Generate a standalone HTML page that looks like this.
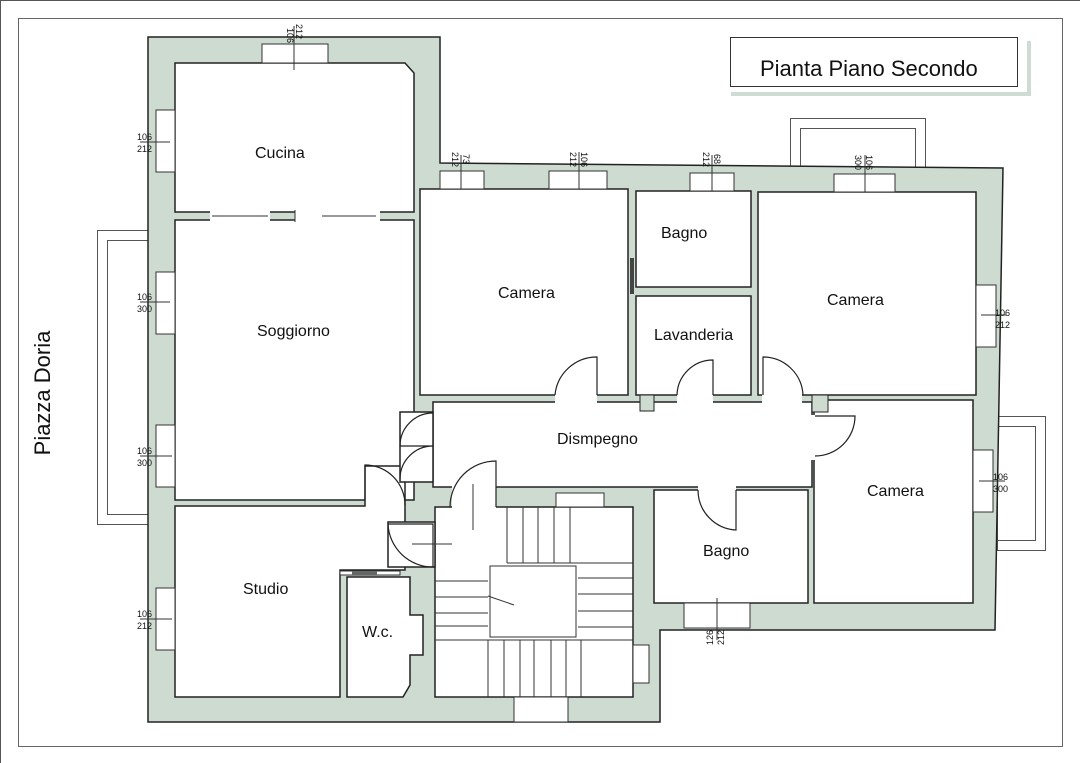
<!DOCTYPE html>
<html><head><meta charset="utf-8"><style>
html,body{margin:0;padding:0;background:#fff;width:1080px;height:763px;overflow:hidden}
svg{display:block;overflow:hidden}
text{font-family:"Liberation Sans",sans-serif;fill:#111}
.r{fill:#fff;stroke:#222;stroke-width:1.5}
.w{fill:#fff;stroke:#333;stroke-width:1}
.l{stroke:#333;stroke-width:1;fill:none}
.d{fill:none;stroke:#222;stroke-width:1.2}
.s{font-size:9px}
</style></head><body>
<svg width="1080" height="763" viewBox="0 0 1080 763">
<line x1="0" y1="0.5" x2="1080" y2="0.5" stroke="#555"/>
<line x1="0.5" y1="0" x2="0.5" y2="763" stroke="#555"/>
<rect x="18.5" y="18.5" width="1044" height="728" fill="none" stroke="#666"/>
<!-- title -->
<rect x="731" y="92" width="300" height="4" fill="#cfdcd3"/>
<rect x="1027" y="41" width="4" height="55" fill="#cfdcd3"/>
<rect x="730.5" y="37.5" width="287" height="49" fill="#fff" stroke="#333"/>
<text x="760" y="76" font-size="22">Pianta Piano Secondo</text>
<text transform="translate(50,393) rotate(-90)" font-size="22" text-anchor="middle">Piazza Doria</text>
<!-- balconies -->
<rect x="97.5" y="230.5" width="51" height="294" fill="none" stroke="#555"/>
<rect x="107.5" y="240.5" width="41" height="274" fill="none" stroke="#555"/>
<rect x="790.5" y="118.5" width="135" height="50" fill="none" stroke="#555"/>
<rect x="800.5" y="128.5" width="115" height="40" fill="none" stroke="#555"/>
<rect x="997.5" y="416.5" width="48" height="134" fill="none" stroke="#555"/>
<rect x="997.5" y="426.5" width="38" height="114" fill="none" stroke="#555"/>
<!-- building -->
<polygon points="148,37 440,37 440,163 1003,168 995,630 660,630 660,722 148,722" fill="#cddbd1" stroke="#222" stroke-width="1.5"/>
<!-- rooms -->
<polygon class="r" points="175,63 405,63 414,73 414,212 175,212"/>
<rect class="r" x="175" y="220" width="239" height="280"/>
<polygon class="r" points="175,506 365,506 365,466 405,466 405,570 340,570 340,697 175,697"/>
<polygon class="r" points="347,577 410,577 410,615 423,615 423,655 410,655 410,685 403,697 347,697"/>
<rect class="r" x="420" y="189" width="208" height="206"/>
<rect class="r" x="636" y="191" width="115" height="96"/>
<rect class="r" x="636" y="296" width="115" height="99"/>
<rect class="r" x="758" y="192" width="218" height="203"/>
<polygon class="r" points="433,402 812,402 812,487 433,487"/>
<rect class="r" x="400" y="412" width="33" height="70"/>
<rect class="r" x="814" y="400" width="159" height="203"/>
<rect class="r" x="654" y="490" width="154" height="113"/>
<rect class="r" x="435" y="507" width="198" height="190"/>
<rect class="r" x="388" y="522" width="47" height="45" stroke="none"/>
<!-- wall chunks -->
<rect x="640" y="395" width="14" height="16" fill="#cddbd1" stroke="#222"/>
<rect x="812" y="395" width="16" height="17" fill="#cddbd1" stroke="#222"/>
<!-- door openings white -->
<rect x="555" y="392" width="42" height="12" fill="#fff"/>
<rect x="677" y="392" width="36" height="12" fill="#fff"/>
<rect x="762" y="392" width="40" height="12" fill="#fff"/>
<rect x="698" y="484" width="38" height="9" fill="#fff"/>
<rect x="452" y="484" width="44" height="26" fill="#fff"/>
<rect x="808" y="415" width="10" height="45" fill="#fff"/>
<rect x="295" y="209" width="30" height="14" fill="#fff"/>
<rect x="210" y="209" width="60" height="14" fill="#fff"/>
<rect x="320" y="209" width="60" height="14" fill="#fff"/>
<line class="l" x1="212" y1="216" x2="268" y2="216"/><line class="l" x1="322" y1="216" x2="376" y2="216"/>
<line class="l" x1="295" y1="210" x2="295" y2="222"/>
<!-- doors arcs -->
<path class="d" d="M597,395 L597,357 A42,42 0 0 0 555,395"/>
<path class="d" d="M713,395 L713,360 A36,36 0 0 0 677,395"/>
<path class="d" d="M763,395 L763,357 A40,40 0 0 1 803,395"/>
<path class="d" d="M815,416 L855,416 A40,40 0 0 1 815,456"/>
<path class="d" d="M736,490 L736,530 A40,40 0 0 1 698,490"/>
<path class="d" d="M450,507 A46,46 0 0 1 496,461 L496,507"/>
<path class="d" d="M365,500 L365,465 A40,40 0 0 1 405,505"/>
<path class="d" d="M433,413 A33,33 0 0 0 400,446 L433,446 A33,33 0 0 0 400,479"/>
<path class="d" d="M388,524 L433,524 L433,567 A45,45 0 0 1 388,524"/>
<rect x="630" y="258" width="4" height="36" fill="#444"/>
<rect x="340" y="571" width="60" height="4" fill="#fff" stroke="#333"/>
<rect x="352" y="571" width="25" height="4" fill="#666"/>
<!-- stairs -->
<g class="l">
<rect x="490" y="566" width="86" height="71"/>
<line x1="507" y1="507" x2="507" y2="563"/><line x1="523" y1="507" x2="523" y2="563"/><line x1="538" y1="507" x2="538" y2="563"/><line x1="554" y1="507" x2="554" y2="563"/><line x1="570" y1="507" x2="570" y2="563"/>
<line x1="507" y1="563" x2="633" y2="563"/>
<line x1="578" y1="578" x2="633" y2="578"/><line x1="578" y1="594" x2="633" y2="594"/><line x1="578" y1="611" x2="633" y2="611"/><line x1="578" y1="627" x2="633" y2="627"/>
<line x1="435" y1="581" x2="488" y2="581"/><line x1="435" y1="597" x2="488" y2="597"/><line x1="435" y1="613" x2="488" y2="613"/><line x1="435" y1="626" x2="488" y2="626"/><line x1="435" y1="640" x2="633" y2="640"/>
<line x1="488" y1="596" x2="514" y2="605"/>
<line x1="488" y1="640" x2="488" y2="697"/><line x1="504" y1="640" x2="504" y2="697"/><line x1="520" y1="640" x2="520" y2="697"/><line x1="534" y1="640" x2="534" y2="697"/><line x1="551" y1="640" x2="551" y2="697"/><line x1="566" y1="640" x2="566" y2="697"/><line x1="581" y1="640" x2="581" y2="697"/>
<line x1="473" y1="484" x2="473" y2="530"/><line x1="412" y1="544" x2="452" y2="544"/>
</g>
<!-- windows -->
<g>
<rect class="w" x="262" y="44" width="66" height="19"/><line class="l" x1="294" y1="26" x2="294" y2="70"/>
<rect class="w" x="156" y="110" width="19" height="62"/><line class="l" x1="140" y1="142" x2="170" y2="142"/>
<rect class="w" x="156" y="272" width="19" height="62"/><line class="l" x1="140" y1="302" x2="170" y2="302"/>
<rect class="w" x="156" y="425" width="19" height="62"/><line class="l" x1="140" y1="456" x2="172" y2="456"/>
<rect class="w" x="156" y="588" width="19" height="62"/><line class="l" x1="140" y1="619" x2="172" y2="619"/>
<rect class="w" x="440" y="171" width="44" height="18"/><line class="l" x1="461" y1="155" x2="461" y2="189"/>
<rect class="w" x="549" y="171" width="58" height="18"/><line class="l" x1="579" y1="152" x2="579" y2="189"/>
<rect class="w" x="690" y="173" width="44" height="18"/><line class="l" x1="712" y1="155" x2="712" y2="191"/>
<rect class="w" x="834" y="174" width="61" height="18"/><line class="l" x1="865" y1="155" x2="865" y2="192"/>
<rect class="w" x="976" y="285" width="20" height="62"/><line class="l" x1="981" y1="315" x2="1006" y2="315"/>
<rect class="w" x="973" y="450" width="20" height="62"/><line class="l" x1="979" y1="481" x2="1005" y2="481"/>
<rect class="w" x="684" y="603" width="66" height="25"/><line class="l" x1="717" y1="598" x2="717" y2="640"/>
<rect class="w" x="556" y="493" width="48" height="14"/>
<rect class="w" x="514" y="697" width="54" height="25"/>
<rect class="w" x="633" y="645" width="16" height="38"/>
</g>
<!-- dims -->
<g class="s">
<text transform="translate(287,28) rotate(90)">106</text><text transform="translate(296,24) rotate(90)" x="0">212</text>
<text x="137" y="140">106</text><text x="137" y="152">212</text>
<text x="137" y="300">106</text><text x="137" y="312">300</text>
<text x="137" y="454">106</text><text x="137" y="466">300</text>
<text x="137" y="617">106</text><text x="137" y="629">212</text>
<text transform="translate(463,154) rotate(90)">73</text><text transform="translate(452,152) rotate(90)">212</text>
<text transform="translate(581,152) rotate(90)">106</text><text transform="translate(570,152) rotate(90)">212</text>
<text transform="translate(714,154) rotate(90)">68</text><text transform="translate(703,152) rotate(90)">212</text>
<text transform="translate(866,155) rotate(90)">106</text><text transform="translate(855,155) rotate(90)">300</text>
<text x="995" y="316">106</text><text x="995" y="328">212</text>
<text x="993" y="480">106</text><text x="993" y="492">300</text>
<text transform="translate(713,645) rotate(-90)">126</text><text transform="translate(724,645) rotate(-90)">212</text>
</g>
<!-- labels -->
<g font-size="16">
<text x="255" y="158">Cucina</text>
<text x="257" y="336">Soggiorno</text>
<text x="243" y="594">Studio</text>
<text x="362" y="637">W.c.</text>
<text x="498" y="298">Camera</text>
<text x="661" y="238">Bagno</text>
<text x="654" y="340">Lavanderia</text>
<text x="827" y="305">Camera</text>
<text x="557" y="444">Dismpegno</text>
<text x="867" y="496">Camera</text>
<text x="703" y="556">Bagno</text>
</g>
</svg>
</body></html>
